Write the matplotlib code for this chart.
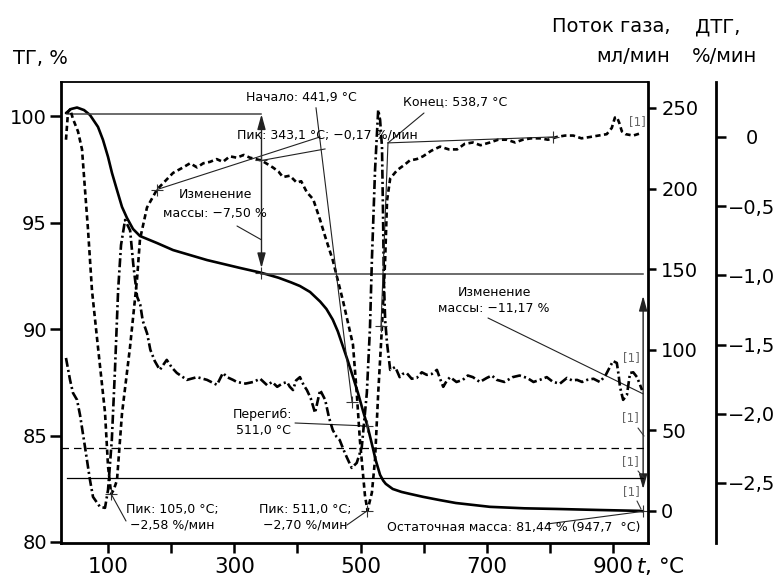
import numpy as np
import matplotlib.pyplot as plt

W, H = 780, 577

# ТГ, % (температура, °C)
tg_t = [33.4, 41.3, 50.9, 62, 71.4, 84.1, 92, 100, 106.3, 114.2, 122.1, 130, 139.6, 150.6,
        177.6, 203, 256.8, 309, 343.1, 370, 390, 404, 420, 436, 446, 456, 464, 472, 480, 488,
        496, 504, 511, 518, 524, 531, 536, 540, 551, 565, 578, 599, 625, 651, 705, 760, 811,
        880, 943, 947.7]
tg_v = [100.16, 100.35, 100.42, 100.3, 100.07, 99.51, 98.9, 98.1, 97.34, 96.54, 95.75, 95.23,
        94.71, 94.38, 94.05, 93.72, 93.25, 92.88, 92.65, 92.42, 92.2, 92.03, 91.75, 91.3,
        90.95, 90.45, 89.9, 89.2, 88.5, 87.76, 87.0, 86.15, 85.45, 84.6, 83.85, 83.15, 82.88,
        82.73, 82.49, 82.35, 82.26, 82.12, 81.97, 81.83, 81.65, 81.58, 81.55, 81.5, 81.46,
        81.44]

# ДТГ, %/мин
dtg_t = [33.4, 36.6, 40, 44.5, 52.4, 58.8, 63.5, 68.3, 74.6, 84.1, 95.2, 100, 105, 109, 114.2,
         122.1, 134.8, 145.9, 150.6, 161.7, 177.6, 203, 219, 230, 241, 251, 261.6, 272, 282,
         293, 304, 315, 325, 343.1, 361, 370, 377, 388, 399, 406, 415, 425, 436, 444, 456,
         472, 488, 494, 499, 507, 511, 518, 523, 528, 534, 539, 542, 547, 558, 570, 578, 589,
         599, 612, 626, 640, 653, 665, 678, 690, 705, 718, 732, 745, 757, 770, 784, 797, 811,
         824, 837, 850, 864, 877, 890, 898, 903, 906, 910, 914, 920, 932, 946]
dtg_v = [-0.02, 0.18, 0.2, 0.13, 0.04, -0.09, -0.38, -0.67, -1.11, -1.52, -1.99, -2.38, -2.58,
         -2.55, -2.48, -2.0, -1.52, -1.03, -0.74, -0.51, -0.38, -0.26, -0.22, -0.19, -0.22,
         -0.19, -0.18, -0.16, -0.18, -0.14, -0.15, -0.13, -0.15, -0.17, -0.22, -0.25, -0.29,
         -0.28, -0.33, -0.32, -0.4, -0.45, -0.6, -0.72, -0.89, -1.18, -1.5, -1.85, -2.19,
         -2.59, -2.7, -2.57, -2.33, -1.85, -1.37, -0.89, -0.46, -0.3, -0.24, -0.2, -0.17,
         -0.16, -0.14, -0.1, -0.07, -0.09, -0.09, -0.05, -0.04, -0.06, -0.04, -0.02, -0.02,
         -0.04, -0.02, -0.01, -0.01, -0.02, 0.0, 0.01, 0.01, -0.01, 0.0, 0.01, 0.02, 0.065,
         0.14, 0.145, 0.1, 0.04, 0.02, 0.01, 0.03]

# Поток газа, мл/мин
gas_t = [33.4, 39.8, 44.5, 50.9, 55.6, 63.5, 71.4, 76.2, 87.3, 95.2, 100, 106, 111, 116,
         120.6, 127, 135, 140, 146, 151, 155, 162, 167, 174, 182, 193, 201, 209, 225, 241,
         256.8, 272.6, 282, 288.5, 298, 304, 318, 330, 341, 352, 360, 368, 376, 383.5, 388,
         393, 398, 404, 410, 415, 421, 428, 432, 436, 444, 450, 456, 462, 467, 473, 478, 486,
         494, 502, 510, 515, 518, 523, 528, 531, 534, 535.6, 537, 539, 542, 547, 555, 562,
         567, 573, 581, 589, 597, 605, 613, 621, 626, 631, 637, 642, 652, 662, 670, 678, 689,
         700, 708, 716, 728, 741, 752, 764, 774, 784, 795, 805, 816, 827, 835, 843, 851, 859,
         869, 879, 888, 895, 900, 906, 909, 911, 916, 922, 927, 932, 938, 946]
gas_v = [94.9, 81.3, 73.2, 68.9, 59.6, 39.7, 19.2, 8.7, 2.5, 1.9, 13, 44, 87.5, 137, 165,
         180.5, 174, 153, 133, 128, 118, 110, 100, 93, 87.5, 93.7, 89, 85.6, 81.3, 83, 81.3,
         78.2, 85.6, 83, 81.3, 80, 79, 80, 82, 78, 80, 77, 79, 80, 77, 75, 81, 83, 78, 75, 70,
         60.8, 68, 75, 68.9, 58, 50.2, 46, 44, 38, 33.5, 26.7, 29.8, 39.7, 73.2, 114, 155.7,
         211.5, 248.8, 242.6, 225.8, 185, 143, 118.5, 104, 87.5, 89.3, 83, 85, 85.6, 82, 82.5,
         86, 84.4, 85, 87.5, 82, 77, 81, 83, 80, 81.3, 84, 83, 80, 82.5, 84, 81.3, 80, 83, 84,
         82.5, 80, 81.3, 83, 80, 79, 82.5, 81, 81.3, 80, 81.3, 82, 80, 84, 89.3, 93, 91.8, 84,
         77, 68.9, 72, 85.6, 86, 83, 75]

gas_dashed_level = 39.0
gas_solid_level = 20.5

mass_start = 100.1
mass_step = 92.61
mass_residue = 81.44
t_residue = 947.7
t_small_peak = 343.1
t_inflection = 511.0

dtg_marks_t = [105.0, 511.0, 343.1, 177.6, 486.5, 532.4, 805.0]
dtg_marks_v = [-2.58, -2.70, -0.17, -0.38, -1.915, -1.366, 0.0]

# касательные (ДТГ-координаты)
tangents = [((177.6, -0.38), (435.8, 0.0)),
            ((343.1, -0.17), (443.7, -0.087)),
            ((486.5, -1.915), (429.5, 0.21)),
            ((805.0, 0.0), (543.5, -0.043)),
            ((532.4, -1.366), (543.5, -0.043))]

fig = plt.figure(figsize=(W / 100, H / 100), dpi=100)
ax = fig.add_axes([61 / W, (H - 543) / H, (648 - 61) / W, (543 - 82) / H])
ax2 = ax.twinx()
ax3 = ax.twinx()

ax.set_xlim(25.5, 955.4)
ax.set_ylim(79.95, 101.62)
ax2.set_ylim(-19.9, 266.1)
ax3.set_ylim(-2.934, 0.397)

ax.plot(tg_t, tg_v, color='black', lw=1.9, solid_capstyle='round', solid_joinstyle='round')
ax3.plot(dtg_t, dtg_v, color='black', lw=1.9, dashes=(2.0, 1.3))
ax2.plot(gas_t, gas_v, color='black', lw=1.9, dashes=(3.4, 1.2, 0.8, 1.2))
ax2.axhline(gas_dashed_level, color='black', lw=0.9, dashes=(6, 4))
ax2.plot([35, t_residue], [gas_solid_level, gas_solid_level], color='black', lw=0.9)

thin = dict(color='#222222', lw=0.8)
ax.plot([35, t_small_peak], [mass_start, mass_start], color='#444444', lw=1.1)
ax.plot([t_small_peak, t_residue], [mass_step, mass_step], color='#444444', lw=1.1)

for (a, b) in tangents:
    ax3.plot([a[0], b[0]], [a[1], b[1]], **thin)

ax3.plot(dtg_marks_t, dtg_marks_v, ls='none', marker='+', ms=9, mew=0.8, color='#333333')
tg_mark_t = [t_small_peak, t_inflection, t_residue]
tg_mark_v = [np.interp(t_small_peak, tg_t, tg_v), np.interp(t_inflection, tg_t, tg_v), mass_residue]
ax.plot(tg_mark_t, tg_mark_v, ls='none', marker='+', ms=9, mew=0.8, color='#333333')

arrow = dict(arrowstyle='<|-|>,head_length=0.9,head_width=0.25', color='#222222', lw=1.0,
             mutation_scale=10)
ax.annotate('', xy=(t_small_peak, mass_step), xytext=(t_small_peak, mass_start),
            arrowprops=dict(arrow, shrinkA=0, shrinkB=4))
ax.annotate('', xy=(t_residue, mass_residue), xytext=(t_residue, mass_step),
            arrowprops=dict(arrow, shrinkA=16, shrinkB=16))


def fp(x, y):
    return (x, H - y)


def leader(axis, xy, px, color='#222222'):
    axis.annotate('', xy=xy, xytext=fp(*px), textcoords='figure pixels',
                  arrowprops=dict(arrowstyle='-', color=color, lw=0.8, shrinkA=0, shrinkB=0))


fs = 9
fig.text(301 / W, 1 - 97 / H, 'Начало: 441,9 °C', ha='center', va='center', fontsize=fs)
fig.text(237 / W, 1 - 135 / H, 'Пик: 343,1 °C; −0,17 %/мин', ha='left', va='center', fontsize=fs)
fig.text(403 / W, 1 - 102 / H, 'Конец: 538,7 °C', ha='left', va='center', fontsize=fs)
fig.text(215 / W, 1 - 204 / H, 'Изменение\nмассы: −7,50 %', ha='center', va='center',
         fontsize=fs, linespacing=1.5)
fig.text(494 / W, 1 - 300 / H, 'Изменение\nмассы: −11,17 %', ha='center', va='center',
         fontsize=fs, linespacing=1.3)
fig.text(172 / W, 1 - 517 / H, 'Пик: 105,0 °C;\n−2,58 %/мин', ha='center', va='center',
         fontsize=fs, linespacing=1.3)
fig.text(305 / W, 1 - 517 / H, 'Пик: 511,0 °C;\n−2,70 %/мин', ha='center', va='center',
         fontsize=fs, linespacing=1.3)
fig.text(263 / W, 1 - 422 / H, 'Перегиб:\n511,0 °C', ha='center', va='center',
         fontsize=fs, linespacing=1.3)
fig.text(640 / W, 1 - 528 / H, 'Остаточная масса: 81,44 % (947,7  °C)', ha='right',
         va='center', fontsize=fs)

leader(ax, (t_small_peak, 94.2), (237, 226))
leader(ax, (t_residue, 86.96), (488, 318))
leader(ax3, (105.0, -2.58), (126, 521))
leader(ax3, (511.0, -2.70), (347, 525))
leader(ax, (t_inflection, tg_mark_v[1]), (295, 423))
leader(ax3, (543.5, -0.043), (424, 113))
leader(ax, (t_residue, mass_residue), (547, 524))

gray = '#666666'
for (x, y) in [(637, 122), (631, 358), (630, 418), (630, 462), (631, 492)]:
    fig.text(x / W, 1 - y / H, '[1]', ha='center', va='center', fontsize=8.5, color=gray)
for (p0, p1) in [((638, 428), (644, 436)), ((638, 471), (644, 478)), ((637, 501), (641, 509))]:
    ax.annotate('', xy=fp(*p1), xycoords='figure pixels', xytext=fp(*p0),
                textcoords='figure pixels',
                arrowprops=dict(arrowstyle='-', color='#333333', lw=0.8, shrinkA=0, shrinkB=0))

# оси
for s in ['left', 'bottom', 'right']:
    ax.spines[s].set_linewidth(2.0)
ax.spines['top'].set_linewidth(1.3)
ax.spines['right'].set_visible(False)
for s in ['left', 'top', 'bottom']:
    ax2.spines[s].set_visible(False)
    ax3.spines[s].set_visible(False)
ax2.spines['right'].set_linewidth(2.0)
ax3.spines['right'].set_linewidth(2.0)
ax3.spines['right'].set_position(('outward', 49))

ax.set_xticks([100, 200, 300, 400, 500, 600, 700, 800, 900])
ax.set_xticklabels(['100', '', '300', '', '500', '', '700', '', '900'])
ax.set_yticks([80, 85, 90, 95, 100])
ax.tick_params(axis='x', direction='out', length=7, width=1.8, labelsize=15.5, pad=3)
ax.tick_params(axis='y', direction='out', length=8, width=1.8, labelsize=14, pad=2)

ax2.set_yticks([0, 50, 100, 150, 200, 250])
ax2.tick_params(axis='y', direction='out', length=6, width=1.8, labelsize=14, pad=3.5)

dtg_ticks = [0, -0.5, -1.0, -1.5, -2.0, -2.5]
ax3.set_yticks(dtg_ticks)
ax3.set_yticklabels(['0'] + [('%.1f' % v).replace('-', '−').replace('.', ',') for v in dtg_ticks[1:]])
ax3.tick_params(axis='y', direction='out', length=7, width=1.8, labelsize=14, pad=18.5)
for lbl in ax3.get_yticklabels():
    lbl.set_horizontalalignment('center')

fig.text(40 / W, 1 - 59 / H, 'ТГ, %', ha='center', va='center', fontsize=14)
fig.text(670 / W, 1 - 27 / H, 'Поток газа,', ha='right', va='center', fontsize=14)
fig.text(670 / W, 1 - 57 / H, 'мл/мин', ha='right', va='center', fontsize=14)
fig.text(695 / W, 1 - 27 / H, 'ДТГ,', ha='left', va='center', fontsize=14)
fig.text(692 / W, 1 - 57 / H, '%/мин', ha='left', va='center', fontsize=14)
fig.text(636 / W, 1 - 566 / H, r'$t$, °C', ha='left', va='center', fontsize=15.5)

fig.savefig('out.png', dpi=100)
